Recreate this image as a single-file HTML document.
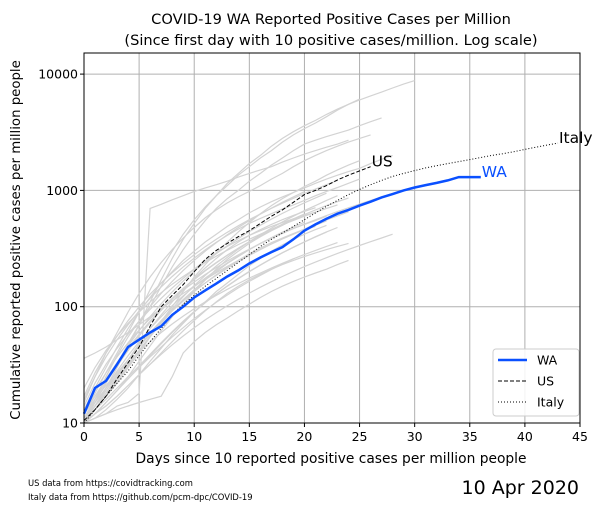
<!DOCTYPE html>
<html><head><meta charset="utf-8"><style>
body{margin:0;background:#fff}
svg{display:block;font-family:"DejaVu Sans","Liberation Sans",sans-serif}
</style></head><body>
<svg id="chart" width="603" height="512" viewBox="0 0 603 512" xmlns="http://www.w3.org/2000/svg">
<rect width="603" height="512" fill="#fff"/>
<text x="331" y="24" text-anchor="middle" font-size="14.6">COVID-19 WA Reported Positive Cases per Million</text>
<text x="331" y="45" text-anchor="middle" font-size="14.6">(Since first day with 10 positive cases/million. Log scale)</text>
<g id="grid"></g>
<g id="gray"></g>
<g id="main"></g>
<rect x="84" y="53" width="496" height="370" fill="none" stroke="#000" stroke-width="1"/>
<g id="ticks"></g>
<text transform="translate(20,240) rotate(-90)" text-anchor="middle" font-size="13.3">Cumulative reported positive cases per million people</text>
<text x="331" y="463" text-anchor="middle" font-size="13.8">Days since 10 reported positive cases per million people</text>
<text x="28" y="486" font-size="8.4">US data from https://covidtracking.com</text>
<text x="28" y="500" font-size="8.4">Italy data from https://github.com/pcm-dpc/COVID-19</text>
<text x="579" y="494" text-anchor="end" font-size="19">10 Apr 2020</text>
<g>
<rect x="493" y="349" width="86" height="67" rx="3" fill="#fff" fill-opacity="0.85" stroke="#ccc"/>
<line x1="498" y1="360" x2="527" y2="360" stroke="#0a50ff" stroke-width="2.5"/>
<text x="537" y="364.5" font-size="12.5">WA</text>
<line x1="498" y1="381" x2="527" y2="381" stroke="#000" stroke-width="1" stroke-dasharray="4,2"/>
<text x="537" y="385.5" font-size="12.5">US</text>
<line x1="498" y1="402" x2="527" y2="402" stroke="#000" stroke-width="1" stroke-dasharray="1,2"/>
<text x="537" y="406.5" font-size="12.5">Italy</text>
</g>
</svg>
<script>
const xTicks=[0,5,10,15,20,25,30,35,40,45];
const yTicks=[10,100,1000,10000];
const yTickLabels=["10","100","1000","10000"];
const waValues=[12,20,23,32,45,52,60,68,85,100,120,138,158,182,205,235,265,295,325,380,450,510,570,630,680,740,800,870,930,1000,1060,1110,1160,1220,1300,1300,1300];
const usValues=[10.5,13,17,24,33,45,68,100,125,155,200,255,305,350,400,450,520,600,680,790,920,1000,1100,1230,1350,1470,1600];
const italyValues=[10,13,17,22,28,38,50,65,85,105,125,150,175,205,240,280,330,380,430,490,560,640,730,820,920,1020,1120,1220,1320,1400,1480,1560,1630,1700,1770,1840,1920,2000,2070,2150,2250,2350,2450,2550];
const grayValues=[
[10,14,20,30,45,70,110,170,260,380,520,700,900,1150,1400,1700,2000,2400,2800,3200,3600,4000,4500,5000,5500,6000,6500,7000,7600,8200,8800],
[12,18,27,40,60,90,140,210,300,420,560,720,900,1100,1350,1600,1900,2200,2600,3000,3400,3800,4300,4900,5500,6100],
[11,15,22,32,48,70,100,150,220,310,420,550,700,850,1000,1200,1400,1650,1900,2200,2500,2700,2900,3100,3300,3600,3900,4200],
[10,11,12,14,15,18,700,760,830,900,980,1050,1120,1200,1300,1400,1500,1600,1750,1900,2050,2200,2350,2500,2700],
[15,25,40,60,90,130,180,240,310,390,480,580,680,780,880,980,1100,1250,1400,1600,1800,2000,2200,2400,2600,2800,3000],
[10,13,17,22,30,40,55,75,100,135,180,230,290,360,440,530,630,740,850,960,1080,1200,1350,1500,1650,1800],
[13,20,30,45,65,90,120,160,200,250,300,360,420,490,560,640,720,800,880,960,1050,1150,1250,1350,1450,1550,1700,1850,2000],
[10,12,15,19,25,34,46,62,82,105,135,170,210,255,300,350,400,450,500,560,620,680,740,800,860],
[11,14,18,24,32,42,55,72,92,115,140,170,200,235,270,310,350,390,430,470,510,550,600],
[10,13,18,25,35,48,65,85,110,140,175,215,260,310,360,410,460,510,560,610,660,710],
[14,22,32,44,58,75,95,118,145,175,210,250,290,330,370,410,450,490,530,570,610,650,700,750],
[10,11,13,16,20,26,34,44,57,72,90,110,135,160,190,225,260,300,340,380,420,460,500],
[12,16,21,27,35,45,58,74,92,112,135,160,188,218,250,285,320,355,390,425,460,490],
[10,12,14,17,21,26,32,40,50,62,76,92,110,130,150,170,190,210,230,250,270,290,310,330,350],
[16,25,37,52,70,92,118,148,182,220,262,308,358,410,465,520,575,630,690,750,820,900,980,1060,1150,1250],
[10,13,17,23,31,42,56,74,96,122,152,186,224,266,312,362,416,474,536,600,670,740,820,900],
[11,15,20,26,33,41,50,60,71,83,96,110,125,141,158,176,195,215,236,258,281,305,330,356],
[10,12,15,19,24,30,38,48,60,74,90,108,128,150,174,200,228,258,290,324,360,398,438],
[20,30,42,56,72,90,110,132,156,182,210,240,272,306,342,380,420,462,506,552,600,650],
[10,14,19,26,35,46,60,76,94,114,136,160,186,214,244,276,310,346,384,424,466,510,556,604,654],
[12,17,24,33,44,58,75,95,118,144,173,205,240,278,319,363,410,460,513,569,628],
[10,11,12,13,14,15,16,17,25,40,50,60,70,80,92,105,120,135,150,165,180,195,210,230,250],
[10,15,22,31,42,56,73,93,116,142,171,203,238,276,317,361,408,458,511,567],
[11,13,16,20,25,31,39,49,61,75,91,109,129,151,175,201,229,259,291,325,361,400,440,480],
[36,40,45,52,60,70,82,96,112,130,150,172,196,222,250,280,312,346,382,420,460,502,546],
[10,16,25,38,55,75,100,130,165,205,250,300,355,415,480,550,625,705,790,880,975],
[10,12,15,19,24,30,37,45,55,66,79,93,109,126,145,165,186,209,233,258],
[13,19,27,37,49,63,79,97,117,139,163,189,217,247,279,313,349,387,427,469,513,559,607,657,709,763,820,880,940,1000],
[10,14,20,28,38,50,65,82,102,124,149,176,206,238,273,310,350,392,437,484,533],
[17,27,40,56,76,100,128,160,196,236,280,328,380,436,496,560,628,700,776,856,940,1028,1120,1216],
[10,12,14,17,21,26,32,39,47,56,66,77,89,102,116,131,147,164,182,201,221,242,264,287,311,336,362,390,420],
[11,16,23,33,46,62,82,106,134,166,202,242,286,334,386,442,502,566,634,706,782,862,946]
];
const X0=84,X1=580,Y10=423,DEC=116.3;
function xs(d){return X0+(X1-X0)*d/45;}
function ys(v){return Y10-DEC*Math.log10(v/10);}
const NS="http://www.w3.org/2000/svg";
function mk(tag,attrs,parent){const e=document.createElementNS(NS,tag);for(const k in attrs)e.setAttribute(k,attrs[k]);parent.appendChild(e);return e;}
function pts(arr){return arr.map((v,i)=>xs(i).toFixed(1)+","+ys(v).toFixed(1)).join(" ");}
const grid=document.getElementById('grid'),ticks=document.getElementById('ticks');
xTicks.forEach(t=>{
 const g=mk('line',{x1:xs(t),x2:xs(t),y1:53,y2:423,stroke:'#b0b0b0','stroke-width':1},grid);
 
 
 const tk=mk('line',{x1:xs(t),x2:xs(t),y1:423,y2:427,stroke:'#000'},ticks);
 
 
 const tl=mk('text',{x:xs(t),y:441,'text-anchor':'middle','font-size':12.5},ticks);
 tl.textContent=String(t);
 
 
});
yTicks.forEach((t,i)=>{
 const g=mk('line',{x1:84,x2:580,y1:ys(t),y2:ys(t),stroke:'#b0b0b0','stroke-width':1},grid);
 
 
 const tk=mk('line',{x1:80,x2:84,y1:ys(t),y2:ys(t),stroke:'#000'},ticks);
 
 
 const tl=mk('text',{x:78,y:ys(t)+4.5,'text-anchor':'end','font-size':12.5},ticks);
 tl.textContent=yTickLabels[i];
 
 
});
const gray=document.getElementById('gray');
grayValues.forEach(s=>{
 const p=mk('polyline',{points:pts(s),fill:'none',stroke:'#d3d3d3','stroke-width':1.2},gray);
 
 
});
const main=document.getElementById('main');
const it=mk('polyline',{points:pts(italyValues),fill:'none',stroke:'#000','stroke-width':1,'stroke-dasharray':'1,2'},main);


const us=mk('polyline',{points:pts(usValues),fill:'none',stroke:'#000','stroke-width':1,'stroke-dasharray':'4,2'},main);


const wa=mk('polyline',{points:pts(waValues),fill:'none',stroke:'#0a50ff','stroke-width':2.5},main);


function lbl(txt,d,v,col,name){
 const t=mk('text',{x:xs(d)+1,y:ys(v),'font-size':15.5,fill:col},main);
 t.textContent=txt;
 
 
}
lbl('US',usValues.length-1,usValues[usValues.length-1],'#000','us-end-label');
lbl('WA',waValues.length-1,waValues[waValues.length-1],'#0a50ff','wa-end-label');
lbl('Italy',italyValues.length-1,italyValues[italyValues.length-1],'#000','italy-end-label');
</script>
</body></html>
